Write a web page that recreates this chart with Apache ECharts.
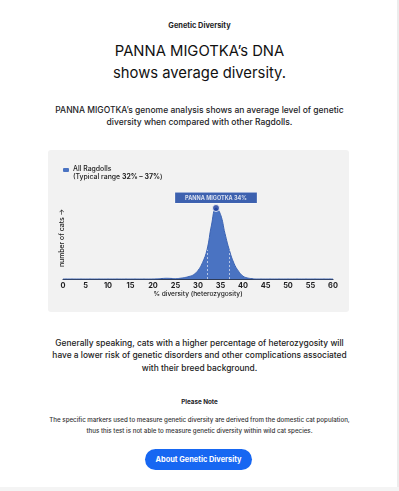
<!DOCTYPE html>
<html>
<head>
<meta charset="utf-8">
<script src="https://cdn.jsdelivr.net/npm/echarts@6/dist/echarts.min.js"></script>
<style>
  html, body { margin:0; padding:0; background:#fff; }
  body { width:399px; height:491px; position:relative; overflow:hidden; font-family: Inter, "Noto Sans", sans-serif; color:#1d1d1f; }
  .t { position:absolute; left:0; width:399px; text-align:center; white-space:nowrap; }
  #kicker { top:21px; font-size:7.4px; font-weight:700; }
  #head { top:40px; font-size:14.8px; line-height:22px; font-weight:400; color:#111; }
  #intro { top:103.5px; font-size:8.5px; line-height:12.5px; font-weight:500; }
  #general { top:336.5px; font-size:8.4px; line-height:12.6px; color:#222; font-weight:500; }
  #pnote { top:397.5px; font-size:6.3px; font-weight:700; }
  #note { top:413.5px; font-size:6.2px; line-height:11.5px; color:#333; font-weight:500; }
  #btn { position:absolute; left:145px; top:449px; width:107px; height:21px; border-radius:11px; background:#1767f2; color:#fff; font-size:7.4px; font-weight:700; line-height:21px; text-align:center; }
  #chart { position:absolute; left:48px; top:150px; width:301px; height:162px; background:#f2f2f2; border-radius:3px; }
  #edge { position:absolute; right:0; top:0; width:2px; height:491px; background:#ececec; }
  #foot { position:absolute; left:0; bottom:0; width:399px; height:4px; background:#f4f4f4; }
</style>
</head>
<body>
<div class="t" id="kicker">Genetic Diversity</div>
<div class="t" id="head">PANNA MIGOTKA’s DNA<br>shows average diversity.</div>
<div class="t" id="intro">PANNA MIGOTKA’s genome analysis shows an average level of genetic<br>diversity when compared with other Ragdolls.</div>
<div id="chart"></div>
<div class="t" id="general">Generally speaking, cats with a higher percentage of heterozygosity will<br>have a lower risk of genetic disorders and other complications associated<br>with their breed background.</div>
<div class="t" id="pnote">Please Note</div>
<div class="t" id="note">The specific markers used to measure genetic diversity are derived from the domestic cat population,<br>thus this test is not able to measure genetic diversity within wild cat species.</div>
<div id="btn">About Genetic Diversity</div>
<div id="edge"></div>
<div id="foot"></div>
<script>
// ---- data ----
const diversityPct = [0,1,2,3,4,5,6,7,8,9,10,11,12,13,14,15,16,17,18,19,20,21,22,23,24,25,26,27,28,29,30,31,32,33,34,35,36,37,38,39,40,41,42,43,44,45,46,47,48,49,50,51,52,53,54,55,56,57,58,59,60];
const catCounts = [0,0,0,0,0,0,0,0,0,0,0,0,0,0,0,0,0,0,0,0,0,0.2,0.7,1,0.8,0.5,1,2,3.5,6,12,23,41,76,100,91,64,40,22,11,4,1.5,0.5,0,0,0,0,0,0,0,0,0,0,0,0,0,0,0,0,0,0];
const xTicks = [0,5,10,15,20,25,30,35,40,45,50,55,60];
const typicalRange = [32, 37];
const petValue = 34;
const petName = 'PANNA MIGOTKA';
const yAxisTitle = 'number of cats →';
const xAxisTitle = '% diversity (heterozygosity)';

const countAt = x => catCounts[diversityPct.indexOf(x)];

const chart = echarts.init(document.getElementById('chart'), null, {renderer:'canvas'});
chart.setOption({
  backgroundColor: 'transparent',
  animation: false,
  textStyle: { fontFamily: 'Inter, "Noto Sans", sans-serif' },
  grid: { left: 15, right: 16, top: 58, bottom: 33 },
  legend: {
    left: 15, top: 9, padding: 0,
    icon: 'roundRect', itemWidth: 6, itemHeight: 4, itemGap: 4,
    data: ['All Ragdolls'],
    formatter: () => 'All Ragdolls\n(Typical range {b|' + typicalRange[0] + '% – ' + typicalRange[1] + '%})',
    textStyle: { fontSize: 6.9, color: '#222', fontWeight: 500, lineHeight: 8, padding: [6,0,0,-1],
      rich: { b: { fontSize: 6.9, fontWeight: 700, color: '#222', lineHeight: 8 } } }
  },
  graphic: [{
    type: 'text', x: 14, y: 88, rotation: Math.PI / 2,
    style: { text: yAxisTitle, align: 'center', verticalAlign: 'middle', fontSize: 6.9, fontWeight: 500,
      fill: '#222', fontFamily: 'Inter, "Noto Sans", sans-serif' }
  }],
  xAxis: {
    type: 'value', min: 0, max: 60, interval: 5,
    name: xAxisTitle, nameLocation: 'middle', nameGap: 12,
    nameTextStyle: { fontSize: 6.6, color: '#222', fontWeight: 500 },
    axisLine: { show: true, lineStyle: { color: '#2e3b57', width: 1.2 } },
    axisTick: { show: false },
    splitLine: { show: false },
    axisLabel: { fontSize: 7.4, fontWeight: 700, color: '#1d1d1f', margin: 3,
      customValues: xTicks }
  },
  yAxis: {
    type: 'value', min: 0, max: 100,
    axisLine: { show: false }, axisTick: { show: false },
    axisLabel: { show: false }, splitLine: { show: false }
  },
  series: [
    {
      name: 'All Ragdolls', type: 'line', smooth: 0.45, symbol: 'none',
      data: diversityPct.map((x,i) => [x, catCounts[i]]),
      itemStyle: { color: '#4a73c2' },
      lineStyle: { color: '#3d64b3', width: 1 },
      areaStyle: { color: '#4a73c2', opacity: 1 },
      z: 2,
      markLine: {
        silent: true, symbol: 'none', label: { show: false },
        lineStyle: { color: 'rgba(255,255,255,0.75)', type: [2,2], width: 0.8 },
        data: typicalRange.map(v => [{ coord: [v, 0] }, { coord: [v, countAt(v)] }])
      }
    },
    {
      name: 'pet', type: 'scatter', symbolSize: 7,
      data: [[petValue, countAt(petValue)]],
      itemStyle: { color: '#1a3b9c', borderColor: '#fff', borderWidth: 1 },
      z: 5,
      label: {
        show: true, position: 'top', distance: 1,
        formatter: petName + ' ' + petValue + '%',
        backgroundColor: '#0f3c9e', color: '#fff', fontSize: 5.5, fontWeight: 700,
        padding: [2.5, 10, 2, 10], borderColor: '#fff', borderWidth: 0.5
      }
    }
  ]
});
</script>
</body>
</html>
